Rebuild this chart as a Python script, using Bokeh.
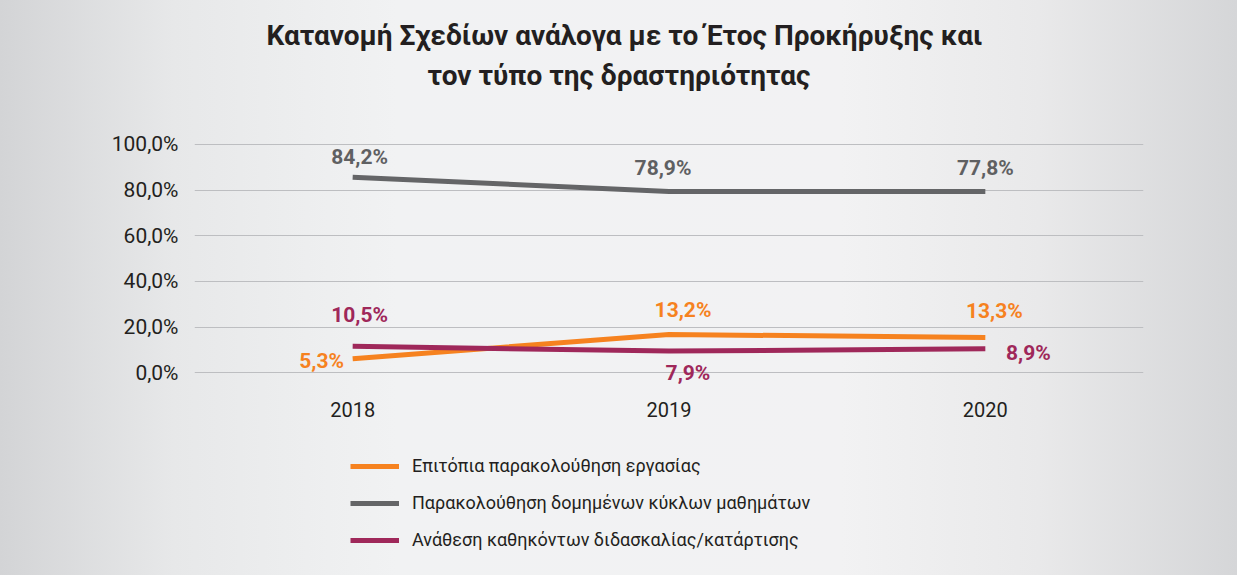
from bokeh.plotting import figure
from bokeh.layouts import column
from bokeh.models import (ColumnDataSource, FactorRange, Range1d, FixedTicker,
                          LabelSet, Title, Legend, LegendItem)
from bokeh.core.properties import value
from bokeh.embed import file_html
from bokeh.resources import INLINE

# ---------------- data ----------------
years = ["2018", "2019", "2020"]
series_names = [
    "Επιτόπια παρακολούθηση εργασίας",
    "Παρακολούθηση δομημένων κύκλων μαθημάτων",
    "Ανάθεση καθηκόντων διδασκαλίας/κατάρτισης",
]
# line positions as drawn in the picture (%)
onsite = [6.1, 16.8, 15.4]
courses = [85.6, 79.4, 79.4]
teaching = [11.6, 9.5, 10.5]
# printed data labels
onsite_labels = ["5,3%", "13,2%", "13,3%"]
courses_labels = ["84,2%", "78,9%", "77,8%"]
teaching_labels = ["10,5%", "7,9%", "8,9%"]
y_ticks = [0, 20, 40, 60, 80, 100]
y_tick_labels = ["0,0%", "20,0%", "40,0%", "60,0%", "80,0%", "100,0%"]
title_lines = ["Κατανομή Σχεδίων ανάλογα με το Έτος Προκήρυξης και",
               "τον τύπο της δραστηριότητας"]

# ---------------- styles ----------------
FONT = "Roboto"
C_ORANGE = "#f6821f"
C_GRAY = "#646567"
C_MAROON = "#9f285a"
C_TEXT = "#231f20"
COLORS = [C_ORANGE, C_GRAY, C_MAROON]
GRADIENT = ("linear-gradient(90deg, #d3d4d6 0%, #e7e8e9 14%, #f1f2f3 32%, "
            "#f2f2f3 68%, #e9e9ea 84%, #d5d6d8 100%)")

# ---------------- main chart ----------------
p = figure(width=1237, height=432, x_range=FactorRange(factors=years, range_padding=0),
           y_range=Range1d(-6, 103), output_backend="svg", toolbar_location=None,
           min_border_left=194, min_border_right=94, min_border_top=137, min_border_bottom=46)
p.border_fill_alpha = 0
p.background_fill_alpha = 0
p.outline_line_color = None

p.xgrid.grid_line_color = None
p.ygrid.grid_line_color = "#bdbec1"
p.ygrid.grid_line_width = 1.2
p.yaxis.ticker = FixedTicker(ticks=y_ticks)
p.yaxis.major_label_overrides = {t: l for t, l in zip(y_ticks, y_tick_labels)}
for ax in (p.xaxis[0], p.yaxis[0]):
    ax.axis_line_color = None
    ax.major_tick_line_color = None
    ax.minor_tick_line_color = None
    ax.major_tick_out = 0
    ax.major_tick_in = 0
    ax.major_label_text_font = FONT
    ax.major_label_text_color = C_TEXT
p.yaxis.major_label_text_font_size = "21px"
p.yaxis.major_label_standoff = 16
p.xaxis.major_label_text_font_size = "20px"
p.xaxis.major_label_standoff = 15

src = ColumnDataSource(dict(x=years, onsite=onsite, courses=courses, teaching=teaching,
                            lo=onsite_labels, lc=courses_labels, lt=teaching_labels))

for col, c in zip(("onsite", "courses", "teaching"), COLORS):
    p.line("x", col, source=src, line_color=c, line_width=5, line_cap="butt")

# label offsets (styling)
off = {
    "courses": ([7, -6, 0], [20, 23, 23]),
    "onsite": ([-31, 14, 9], [-2, 24, 27]),
    "teaching": ([7, 19, 43], [31, -22, -4]),
}
for col, lab, color in (("courses", "lc", "#5f6062"), ("onsite", "lo", C_ORANGE),
                        ("teaching", "lt", C_MAROON)):
    xo, yo = off[col]
    s = ColumnDataSource(dict(x=years, y=src.data[col], t=src.data[lab], xo=xo, yo=yo))
    p.add_layout(LabelSet(x="x", y="y", text="t", source=s, x_offset="xo", y_offset="yo",
                          text_align="center", text_baseline="middle",
                          text_font=value(FONT), text_font_style="bold",
                          text_font_size="21px", text_color=color))

# title (two lines, stacked outward from the frame)
p.add_layout(Title(text=" ", text_font_size="20px", standoff=22), "above")
p.add_layout(Title(text=title_lines[1], align="left", offset=233, text_font=FONT,
                   text_font_style="bold", text_font_size="28px", text_color=C_TEXT,
                   standoff=0), "above")
p.add_layout(Title(text=title_lines[0], align="left", offset=72, text_font=FONT,
                   text_font_style="bold", text_font_size="28px", text_color=C_TEXT,
                   standoff=10), "above")

# ---------------- legend strip ----------------
lg = figure(width=1237, height=143, x_range=Range1d(0, 1), y_range=Range1d(0, 1),
            x_axis_location=None, y_axis_location=None, output_backend="svg",
            toolbar_location=None, min_border=0)
lg.border_fill_alpha = 0
lg.background_fill_alpha = 0
lg.outline_line_color = None
lg.grid.visible = False
items = []
for name, c in zip(series_names, COLORS):
    # legend-only renderer: a single point outside the visible range draws nothing
    r = lg.line(x=[-5], y=[-5], line_color=c, line_width=5, line_cap="butt")
    items.append(LegendItem(label=name, renderers=[r]))
legend = Legend(items=items, location=(156, 25), orientation="vertical")
legend.border_line_color = None
legend.background_fill_alpha = 0
legend.padding = 0
legend.margin = 0
legend.spacing = 16
legend.glyph_height = 20
legend.label_height = 20
legend.glyph_width = 49
legend.label_standoff = 13
legend.label_text_font = FONT
legend.label_text_font_size = "18px"
legend.label_text_color = C_TEXT
lg.add_layout(legend, "center")

page = column(p, lg, spacing=0, styles={"background": GRADIENT})
open("out.html", "w").write(file_html(page, INLINE))
